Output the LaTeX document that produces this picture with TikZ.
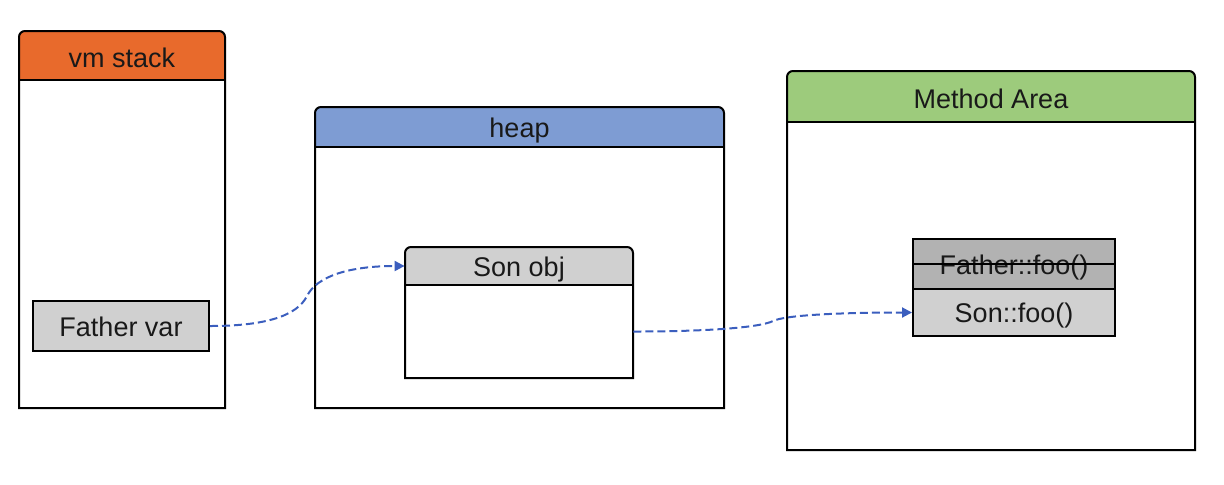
\documentclass[tikz,border=0pt]{standalone}
\usepackage{fontspec}
\setmainfont{Liberation Sans}
\usetikzlibrary{arrows.meta}
\definecolor{stackorange}{RGB}{232,106,44}
\definecolor{heapblue}{RGB}{126,156,211}
\definecolor{areagreen}{RGB}{157,203,124}
\definecolor{cellgray}{RGB}{208,208,208}
\definecolor{oldgray}{RGB}{178,178,178}
\definecolor{refblue}{RGB}{59,94,190}
\tikzset{
    frame/.style = {draw=black, line width=1pt},
    head/.style = {rectangle, inner sep=0pt, text height=10pt, text depth=0pt, text=black!90, font=\fontsize{13.5}{15}\selectfont},
    cell/.style = {head, draw=black, line width=1pt, fill=cellgray},
    ref/.style = {-{Triangle[length=5pt,width=5pt]}, line width=1pt, draw=refblue, dash pattern=on 4pt off 2pt},
}

\begin{document}
\begin{tikzpicture}[x=0.5pt,y=-0.5pt]
\useasboundingbox (0,0) rectangle (1224,484);
% vm stack
\fill[stackorange] (19,80) [rounded corners=3pt] -- (19,31) -- (225,31) [sharp corners] -- (225,80) -- cycle;
\draw[frame] (19,408) [rounded corners=3pt] -- (19,31) -- (225,31) [sharp corners] -- (225,408) -- cycle;
\draw[frame] (19,80) -- (225,80);
\node[head] (stackhd) at (122,57.5) {vm stack};
\node[cell, minimum width=88pt, minimum height=25pt] (fv) at (121,326) {Father var};
% heap
\fill[heapblue] (315,147) [rounded corners=3pt] -- (315,107) -- (724,107) [sharp corners] -- (724,147) -- cycle;
\draw[frame] (315,408) [rounded corners=3pt] -- (315,107) -- (724,107) [sharp corners] -- (724,408) -- cycle;
\draw[frame] (315,147) -- (724,147);
\node[head] (heaphd) at (519.5,127.5) {heap};
% Son obj
\fill[cellgray] (405,285) [rounded corners=3pt] -- (405,247) -- (633,247) [sharp corners] -- (633,285) -- cycle;
\draw[frame] (405,378) [rounded corners=3pt] -- (405,247) -- (633,247) [sharp corners] -- (633,378) -- cycle;
\draw[frame] (405,285) -- (633,285);
\node[head, minimum width=114pt, minimum height=19pt] (sohd) at (519,266) {Son obj};
\node[head, minimum width=114pt, minimum height=46.5pt] (sobody) at (519,331.5) {};
% Method Area
\fill[areagreen] (787,122) [rounded corners=3pt] -- (787,71) -- (1195,71) [sharp corners] -- (1195,122) -- cycle;
\draw[frame] (787,450) [rounded corners=3pt] -- (787,71) -- (1195,71) [sharp corners] -- (1195,450) -- cycle;
\draw[frame] (787,122) -- (1195,122);
\node[head] (areahd) at (991,98.5) {Method Area};
\node[cell, fill=oldgray, minimum width=101pt, minimum height=25pt] (ff) at (1014,264) {Father::foo()};
\draw[line width=1pt] (ff.west) -- (ff.east);
\node[cell, minimum width=101pt, minimum height=23.5pt] (sf) at (1014,312.5) {Son::foo()};
%
\coordinate (m1) at (307,296);
\coordinate (m2) at (773,321);
\draw[ref] (fv.east) .. controls +(55,0) and +(-10,20) .. (m1) .. controls +(10,-20) and +(-55,0) .. (sohd.west);
\draw[ref] (sobody.east) .. controls +(80,0) and +(-12,6) .. (m2) .. controls +(12,-6) and +(-70,0) .. (sf.west);
\end{tikzpicture}
\end{document}
